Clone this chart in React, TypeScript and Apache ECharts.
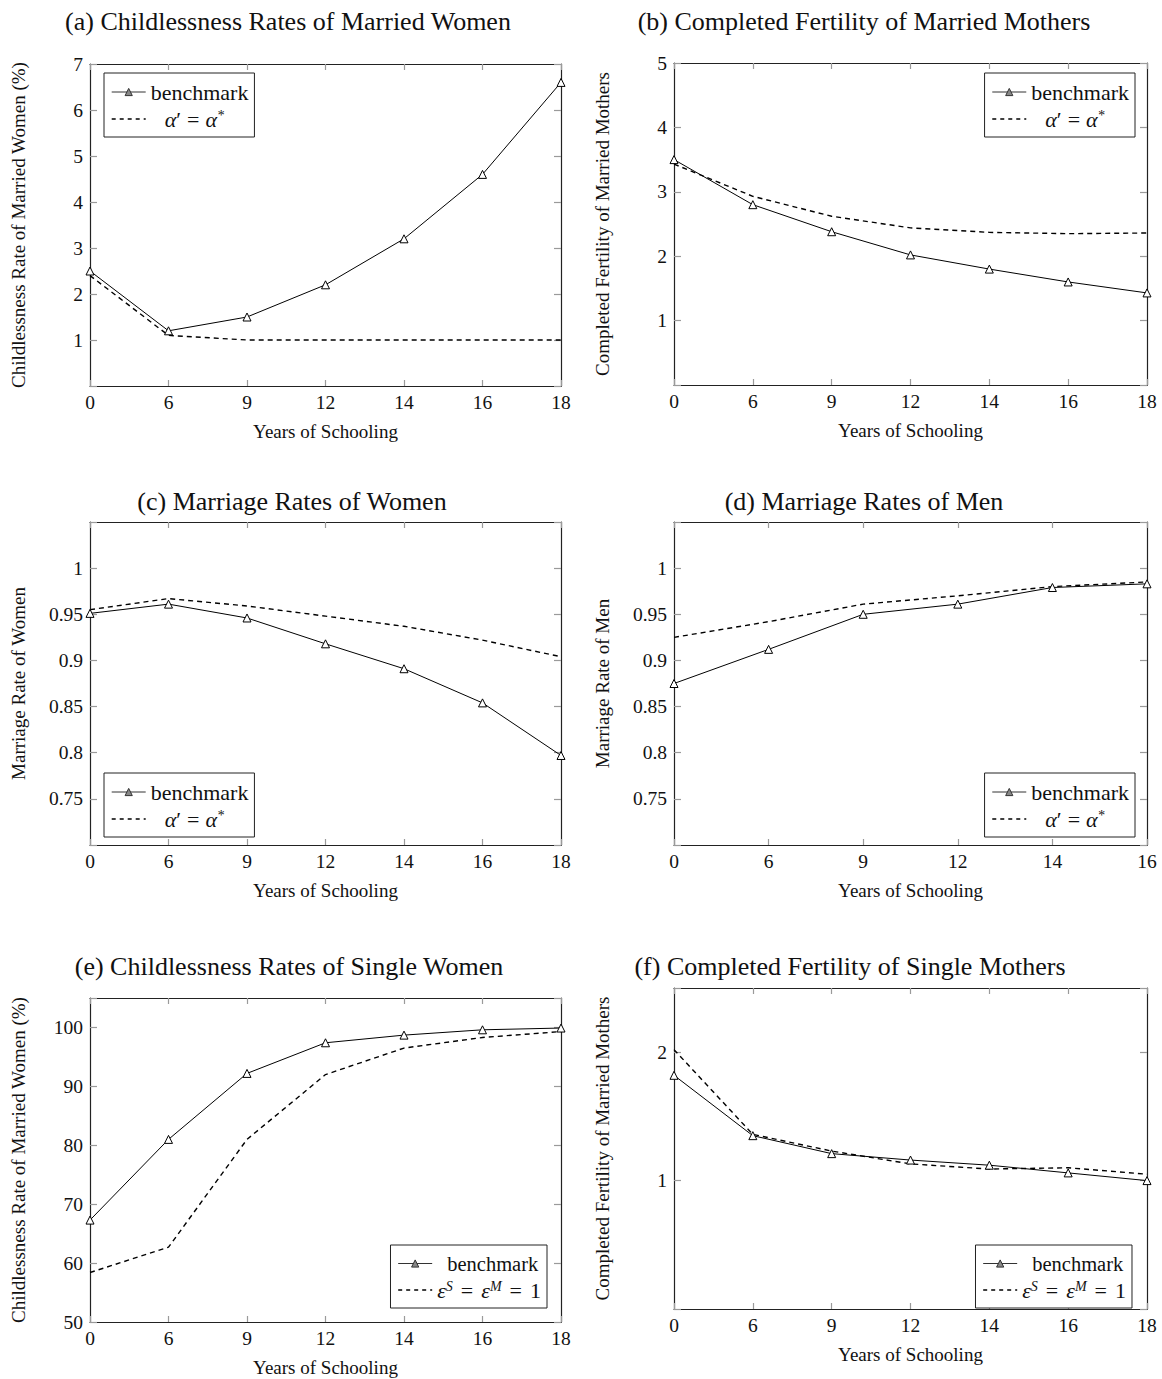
import React, { useEffect, useRef } from "react";
import * as echarts from "echarts";

const FONT = "'Liberation Serif', 'Times New Roman', serif";

// x categories (years of schooling)
const schoolingFull = ["0", "6", "9", "12", "14", "16", "18"];
const schoolingMen = ["0", "6", "9", "12", "14", "16"];

// (a) childlessness rates of married women (%)
const childMarriedBench = [2.5, 1.2, 1.5, 2.2, 3.2, 4.6, 6.6];
const childMarriedAlt = [2.4, 1.1, 1.0, 1.0, 1.0, 1.0, 1.0];
// (b) completed fertility of married mothers
const fertMarriedBench = [3.5, 2.8, 2.38, 2.02, 1.8, 1.6, 1.43];
const fertMarriedAlt = [3.43, 2.93, 2.62, 2.44, 2.37, 2.35, 2.36];
// (c) marriage rates of women
const marrWomenBench = [0.951, 0.961, 0.946, 0.918, 0.891, 0.854, 0.797];
const marrWomenAlt = [0.955, 0.967, 0.959, 0.948, 0.937, 0.922, 0.904];
// (d) marriage rates of men
const marrMenBench = [0.875, 0.912, 0.95, 0.961, 0.979, 0.983];
const marrMenAlt = [0.925, 0.942, 0.961, 0.97, 0.98, 0.985];
// (e) childlessness rates of single women (%)
const childSingleBench = [67.3, 81.0, 92.2, 97.4, 98.7, 99.6, 99.9];
const childSingleAlt = [58.4, 62.7, 81.0, 92.0, 96.5, 98.3, 99.3];
// (f) completed fertility of single mothers
const fertSingleBench = [1.82, 1.35, 1.21, 1.16, 1.12, 1.06, 1.0];
const fertSingleAlt = [2.02, 1.36, 1.23, 1.13, 1.09, 1.1, 1.05];

const BENCH = "benchmark";
const ALPHA = "α′ = α*";
const EPS = "εS = εM = 1";

const TICK_FS = 19.5;
const NAME_FS = 19;
const TITLE_FS = 26;
const LEG_FS = 20.5;
const MATH_FS = 22;

const panels = [
  {
    title: "(a) Childlessness Rates of Married Women", titleX: 283, titleY: 3,
    left: 90, top: 64, width: 471, height: 322,
    cats: schoolingFull, bench: childMarriedBench, alt: childMarriedAlt, altName: ALPHA,
    yName: "Childlessness Rate of Married Women (%)",
    min: 0, max: 7, interval: 1, shown: [1, 2, 3, 4, 5, 6, 7], digits: 0,
    legend: { left: 104, top: 73 },
  },
  {
    title: "(b) Completed Fertility of Married Mothers", titleX: 859, titleY: 3,
    left: 674, top: 63, width: 473, height: 322,
    cats: schoolingFull, bench: fertMarriedBench, alt: fertMarriedAlt, altName: ALPHA,
    yName: "Completed Fertility of Married Mothers",
    min: 0, max: 5, interval: 1, shown: [1, 2, 3, 4, 5], digits: 0,
    legend: { right: 27, top: 73 },
  },
  {
    title: "(c) Marriage Rates of Women", titleX: 287, titleY: 483,
    left: 90, top: 522, width: 471, height: 323,
    cats: schoolingFull, bench: marrWomenBench, alt: marrWomenAlt, altName: ALPHA,
    yName: "Marriage Rate of Women",
    min: 0.7, max: 1.05, interval: 0.05, shown: [0.75, 0.8, 0.85, 0.9, 0.95, 1], digits: 2,
    legend: { left: 104, top: 773 },
  },
  {
    title: "(d) Marriage Rates of Men", titleX: 859, titleY: 483,
    left: 674, top: 522, width: 473, height: 323,
    cats: schoolingMen, bench: marrMenBench, alt: marrMenAlt, altName: ALPHA,
    yName: "Marriage Rate of Men",
    min: 0.7, max: 1.05, interval: 0.05, shown: [0.75, 0.8, 0.85, 0.9, 0.95, 1], digits: 2,
    legend: { right: 27, top: 773 },
  },
  {
    title: "(e) Childlessness Rates of Single Women", titleX: 284, titleY: 948,
    left: 90, top: 998, width: 471, height: 324,
    cats: schoolingFull, bench: childSingleBench, alt: childSingleAlt, altName: EPS,
    yName: "Childlessness Rate of Married Women (%)",
    min: 50, max: 105, interval: 10, shown: [50, 60, 70, 80, 90, 100], digits: 0,
    legend: { right: 615, top: 1245 },
  },
  {
    title: "(f) Completed Fertility of Single Mothers", titleX: 845, titleY: 948,
    left: 674, top: 988, width: 473, height: 321,
    cats: schoolingFull, bench: fertSingleBench, alt: fertSingleAlt, altName: EPS,
    yName: "Completed Fertility of Married Mothers",
    min: 0, max: 2.5, interval: 1, shown: [1, 2], digits: 0,
    legend: { right: 30, top: 1245 },
  },
];

const FRAME = "#222";
const TICK = "#9a9a9a";

function buildOption() {
  const grid: any[] = [];
  const xAxis: any[] = [];
  const yAxis: any[] = [];
  const series: any[] = [];
  const legend: any[] = [];
  const title: any[] = [];

  panels.forEach((p, i) => {
    grid.push({ left: p.left, top: p.top, width: p.width, height: p.height });
    title.push({
      text: p.title, left: p.titleX, top: p.titleY, textAlign: "center",
      textStyle: { fontFamily: FONT, fontSize: TITLE_FS, fontWeight: "normal", color: "#111" },
    });
    const common = {
      type: "category", gridIndex: i, data: p.cats, boundaryGap: false,
      axisLine: { show: true, onZero: false, lineStyle: { color: FRAME, width: 1.2 } },
      axisTick: { show: true, inside: true, length: 6, lineStyle: { color: TICK, width: 1.2 } },
      splitLine: { show: false },
    };
    xAxis.push({
      ...common, position: "bottom",
      axisLabel: { show: true, fontFamily: FONT, fontSize: TICK_FS, color: "#111", margin: 6 },
      name: "Years of Schooling", nameLocation: "middle", nameGap: 36,
      nameTextStyle: { fontFamily: FONT, fontSize: NAME_FS, color: "#111" },
    });
    xAxis.push({ ...common, position: "top", axisLabel: { show: false } });

    const ycommon = {
      type: "value", gridIndex: i, min: p.min, max: p.max, interval: p.interval,
      axisLine: { show: true, onZero: false, lineStyle: { color: FRAME, width: 1.2 } },
      axisTick: { show: true, inside: true, length: 7, lineStyle: { color: TICK, width: 1.2 } },
      splitLine: { show: false },
    };
    const shown = p.shown;
    yAxis.push({
      ...ycommon, position: "left",
      axisLabel: {
        show: true, fontFamily: FONT, fontSize: TICK_FS, color: "#111", margin: 7,
        formatter: (v: number) => {
          const hit = shown.some((s) => Math.abs(s - v) < 1e-6);
          if (!hit) return "";
          return String(parseFloat(v.toFixed(p.digits)));
        },
      },
      name: p.yName, nameLocation: "middle", nameGap: 62,
      nameTextStyle: { fontFamily: FONT, fontSize: NAME_FS, color: "#111" },
    });
    yAxis.push({ ...ycommon, position: "right", axisLabel: { show: false } });

    series.push({
      name: p.altName, type: "line", xAxisIndex: 2 * i, yAxisIndex: 2 * i,
      data: p.alt, symbol: "none", smooth: false,
      lineStyle: { color: "#000", width: 1.4, type: [5, 4] },
      itemStyle: { color: "#000" },
      z: 3,
    });
    series.push({
      name: BENCH, type: "line", xAxisIndex: 2 * i, yAxisIndex: 2 * i,
      data: p.bench, symbol: "triangle", symbolSize: 8,
      lineStyle: { color: "#000", width: 1 },
      itemStyle: { color: "#fff", borderColor: "#000", borderWidth: 1 },
      z: 4,
    });

    const isEps = p.altName === EPS;
    legend.push({
      ...p.legend,
      data: [
        {
          name: BENCH,
          lineStyle: { color: "#333", width: 1 },
          itemStyle: { color: "#888", borderColor: "#333", borderWidth: 1 },
        },
        {
          name: p.altName,
          lineStyle: { color: "#000", width: 1.4, type: [4, 4] },
          itemStyle: { color: "rgba(0,0,0,0)", borderColor: "rgba(0,0,0,0)", borderWidth: 0, opacity: 0 },
        },
      ],
      orient: "vertical",
      itemWidth: 34, itemHeight: 9, itemGap: 5,
      padding: [8, 6, 7, 7],
      borderColor: "#222", borderWidth: 1, borderRadius: 0,
      backgroundColor: "#fff",
      selectedMode: false,
      formatter: (name: string) => {
        if (name === BENCH) return isEps ? "{pb|benchmark}" : "{n|benchmark}";
        if (name === ALPHA) return "{pa|}{i|α}{n|′}{eq|=}{i|α}{s|*}";
        return "{i|ε}{s|S}{eq2|=}{i|ε}{s|M}{eq2|=}{n|1}";
      },
      textStyle: {
        fontFamily: FONT, fontSize: LEG_FS, color: "#111",
        rich: {
          n: { fontFamily: FONT, fontSize: MATH_FS, color: "#111", lineHeight: 22 },
          pb: { fontFamily: FONT, fontSize: LEG_FS, color: "#111", lineHeight: 22, padding: [0, 0, 0, 10] },
          pa: { width: 14, lineHeight: 22 },
          eq: { fontFamily: FONT, fontSize: MATH_FS, color: "#111", lineHeight: 22, padding: [0, 6, 0, 6] },
          eq2: { fontFamily: FONT, fontSize: MATH_FS, color: "#111", lineHeight: 22, padding: [0, 8, 0, 8] },
          i: { fontFamily: FONT, fontStyle: "italic", fontSize: MATH_FS, color: "#111", lineHeight: 22 },
          s: { fontFamily: FONT, fontStyle: "italic", fontSize: 14, color: "#111", verticalAlign: "top", lineHeight: 22, padding: [0, 0, 8, 0] },
        },
      },
    });
  });

  return { animation: false, backgroundColor: "#fff", grid, xAxis, yAxis, series, legend, title };
}

export default function App() {
  const ref = useRef<HTMLDivElement>(null);
  useEffect(() => {
    document.body.style.margin = "0";
    if (!ref.current) return;
    const chart = echarts.init(ref.current, null, { renderer: "svg" });
    chart.setOption(buildOption() as any);
    return () => chart.dispose();
  }, []);
  return <div ref={ref} style={{ width: 1162, height: 1379 }} />;
}
